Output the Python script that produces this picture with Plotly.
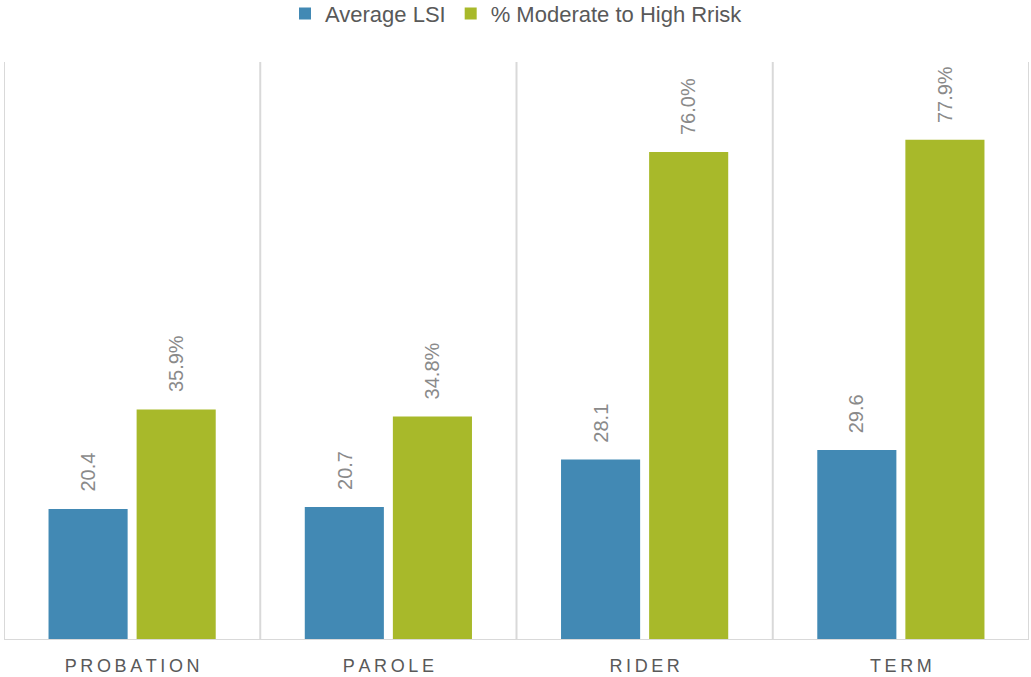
import plotly.graph_objects as go

categories = ["PROBATION", "PAROLE", "RIDER", "TERM"]
avg_lsi = [20.4, 20.7, 28.1, 29.6]
pct_mod_high = [35.9, 34.8, 76.0, 77.9]
lsi_labels = ["20.4", "20.7", "28.1", "29.6"]
pct_labels = ["35.9%", "34.8%", "76.0%", "77.9%"]

BLUE = "#4289B4"
GREEN = "#A8B92A"
GRID = "#D9D9D9"
FONT = "Liberation Sans, Arial, sans-serif"

def spaced(s):
    return "\u2009".join(s)

fig = go.Figure()
fig.add_trace(go.Bar(x=categories, y=avg_lsi, name="Average LSI",
                     marker=dict(color=BLUE, line=dict(width=0))))
fig.add_trace(go.Bar(x=categories, y=pct_mod_high, name="% Moderate to High Rrisk",
                     marker=dict(color=GREEN, line=dict(width=0))))

annotations = []
for c, v, t in zip(categories, avg_lsi, lsi_labels):
    annotations.append(dict(x=c, y=v, text=t, showarrow=False, textangle=-90,
                            xanchor="center", yanchor="bottom", xshift=-44, yshift=15,
                            font=dict(size=20, color="#8A8A8A", family=FONT)))
for c, v, t in zip(categories, pct_mod_high, pct_labels):
    annotations.append(dict(x=c, y=v, text=t, showarrow=False, textangle=-90,
                            xanchor="center", yanchor="bottom", xshift=44, yshift=15,
                            font=dict(size=20, color="#8A8A8A", family=FONT)))

shapes = []
for xb in [-0.5, 0.5, 1.5, 2.5, 3.5]:
    shapes.append(dict(type="line", xref="x", yref="paper", x0=xb, x1=xb, y0=0, y1=1,
                       line=dict(color=GRID, width=2), layer="below"))
shapes.append(dict(type="line", xref="paper", yref="y", x0=0, x1=1, y0=0, y1=0,
                   line=dict(color=GRID, width=2), layer="above"))

fig.update_layout(
    width=1031, height=677,
    margin=dict(l=4, r=2, t=62, b=37, autoexpand=False),
    paper_bgcolor="white", plot_bgcolor="white",
    barmode="group", bargap=0.3125, bargroupgap=0.102,
    font=dict(family=FONT, color="#595959"),
    legend=dict(orientation="h", x=0.5, xanchor="center", y=1.12, yanchor="top",
                yref="paper", font=dict(size=22, color="#595959"),
                itemwidth=30, traceorder="normal"),
    xaxis=dict(range=[-0.5, 3.5], showgrid=False, showline=False, zeroline=False,
               automargin=False,
               tickmode="array", tickvals=categories, ticktext=[spaced(c) for c in categories],
               tickfont=dict(size=18, color="#595959"), ticks="outside", ticklen=9,
               tickcolor="rgba(0,0,0,0)"),
    yaxis=dict(range=[0, 90], visible=False, showgrid=False, zeroline=False,
               automargin=False),
    annotations=annotations, shapes=shapes,
)

fig.write_html("out.html")
